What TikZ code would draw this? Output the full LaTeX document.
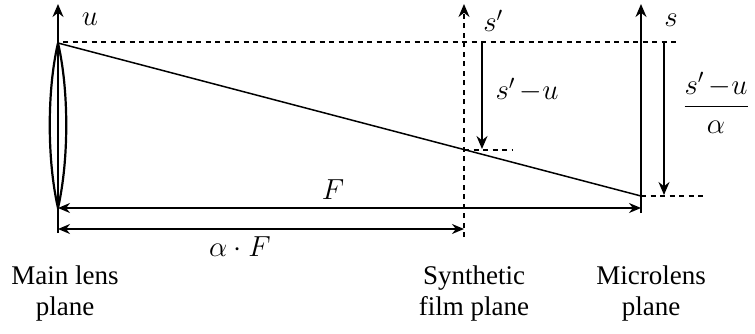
\RequirePackage{fix-cm}
\documentclass[tikz,border=0pt]{standalone}
\usepackage{fontspec}
\setmainfont{Liberation Serif}
\usetikzlibrary{arrows.meta}
\begin{document}
\begin{tikzpicture}[x=1pt,y=-1pt,line width=1.5pt,
  tip/.style={-{Stealth[length=13pt,width=11pt]}},
  dtip/.style={{Stealth[length=12pt,width=10pt]}-{Stealth[length=12pt,width=10pt]}},
  dsh/.style={dash pattern=on 5pt off 4.5pt},
  lbl/.style={font=\fontsize{27}{31}\selectfont,align=center,inner sep=0pt},
  mth/.style={font=\fontsize{29}{35}\selectfont,inner sep=0pt}]
\useasboundingbox (0,0) rectangle (755,333);
% coordinates
\coordinate (uB) at (58,233);
\coordinate (uT) at (58,4);
\coordinate (Ltop) at (58,43);
\coordinate (Lbot) at (58,208);
\coordinate (fB) at (464,237);
\coordinate (fT) at (464,4);
\coordinate (mB) at (641,213);
\coordinate (mT) at (641,4);
\coordinate (tdL) at (63,42);
\coordinate (tdR) at (680,42);
\coordinate (mR) at (641,196);
\coordinate (sa1) at (482,43);
\coordinate (sa2) at (482,149);
\coordinate (fx) at (464,150);
\coordinate (fxR) at (512,150);
\coordinate (ra1) at (664,43);
\coordinate (ra2) at (664,195);
\coordinate (mxR) at (705,196);
\coordinate (F1) at (58,208);
\coordinate (F2) at (641,208);
\coordinate (aF1) at (58,229);
\coordinate (aF2) at (464,229);
% axes
\draw[tip] (uB) -- (uT);
\draw[tip,dsh] (fB) -- (fT);
\draw[tip] (mB) -- (mT);
% lens
\draw[line width=2.2pt] (Ltop) .. controls (47,90) and (47,160) .. (Lbot)
  .. controls (69,160) and (69,90) .. (Ltop);
% top dashed line
\draw[dsh] (tdL) -- (tdR);
% ray
\draw (Ltop) -- (mR);
% s'-u
\draw[tip] (sa1) -- (sa2);
\draw[dsh] (fx) -- (fxR);
\draw[tip] (ra1) -- (ra2);
\draw[dsh] (mR) -- (mxR);
% distances
\draw[dtip] (F1) -- (F2);
\draw[dtip] (aF1) -- (aF2);
% labels
\node[mth] (ul) at (90,19) {$u$};
\node[mth] (spl) at (493,21) {$s'$};
\node[mth] (sl) at (671,20) {$s$};
\node[mth] (sul) at (527,90) {$s'\,{-}u$};
\node[mth] (frl) at (716,103) {$\displaystyle\frac{s'\,{-}u}{\alpha}$};
\node[mth] (Fl) at (333,190) {$F$};
\node[mth] (aFl) at (240,247) {$\alpha\cdot F$};
\node[lbl] (t1) at (65,293) {Main lens\\plane};
\node[lbl] (t2) at (474,293) {Synthetic\\film plane};
\node[lbl] (t3) at (651,293) {Microlens\\plane};
\end{tikzpicture}
\end{document}
